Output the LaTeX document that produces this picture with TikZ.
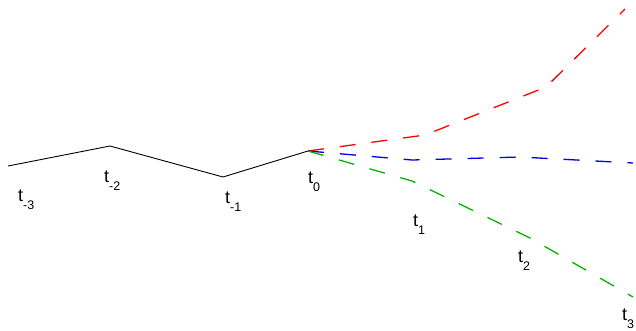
\documentclass[tikz,border=0pt]{standalone}
\usepackage{fontspec}
\setmainfont{Liberation Sans}
\newcommand{\tlab}[1]{\fontsize{18}{18}\selectfont t\raisebox{-8.5pt}{\fontsize{12.5}{12.5}\selectfont #1}}
\tikzset{
  past/.style={black, line width=0.9pt},
  fut/.style={line width=1.3pt, dash pattern=on 16pt off 16pt},
  lab/.style={anchor=base west, inner sep=0pt}
}
\definecolor{fred}{RGB}{255,0,0}
\definecolor{fblue}{RGB}{0,0,230}
\definecolor{fgreen}{RGB}{0,180,0}
\begin{document}
\begin{tikzpicture}[x=1pt,y=-1pt]
\useasboundingbox (0,0) rectangle (636,330);
\coordinate (pm3) at (8,166);
\coordinate (pm2) at (110,146);
\coordinate (pm1) at (223,177);
\coordinate (p0) at (308,151);
\coordinate (r1) at (425,135);
\coordinate (r2) at (546,87);
\coordinate (r3) at (625,9);
\coordinate (b1) at (412,160);
\coordinate (b2) at (520,157);
\coordinate (b3) at (633,163);
\coordinate (g1) at (412,181);
\coordinate (g2) at (530,238);
\coordinate (g3) at (633,297);
\draw[past] (pm3) -- (pm2) -- (pm1) -- (p0);
\draw[fut, fred] (p0) -- (r1) -- (r2) -- (r3);
\draw[fut, fblue] (p0) -- (b1) -- (b2) -- (b3);
\draw[fut, fgreen] (p0) -- (g1) -- (g2) -- (g3);
\node[lab] (lm3) at (18,201) {\tlab{-3}};
\node[lab] (lm2) at (104,182) {\tlab{-2}};
\node[lab] (lm1) at (225,203) {\tlab{-1}};
\node[lab] (l0) at (308,183) {\tlab{0}};
\node[lab] (l1) at (413,226) {\tlab{1}};
\node[lab] (l2) at (518,262) {\tlab{2}};
\node[lab] (l3) at (622,320) {\tlab{3}};
\end{tikzpicture}
\end{document}
